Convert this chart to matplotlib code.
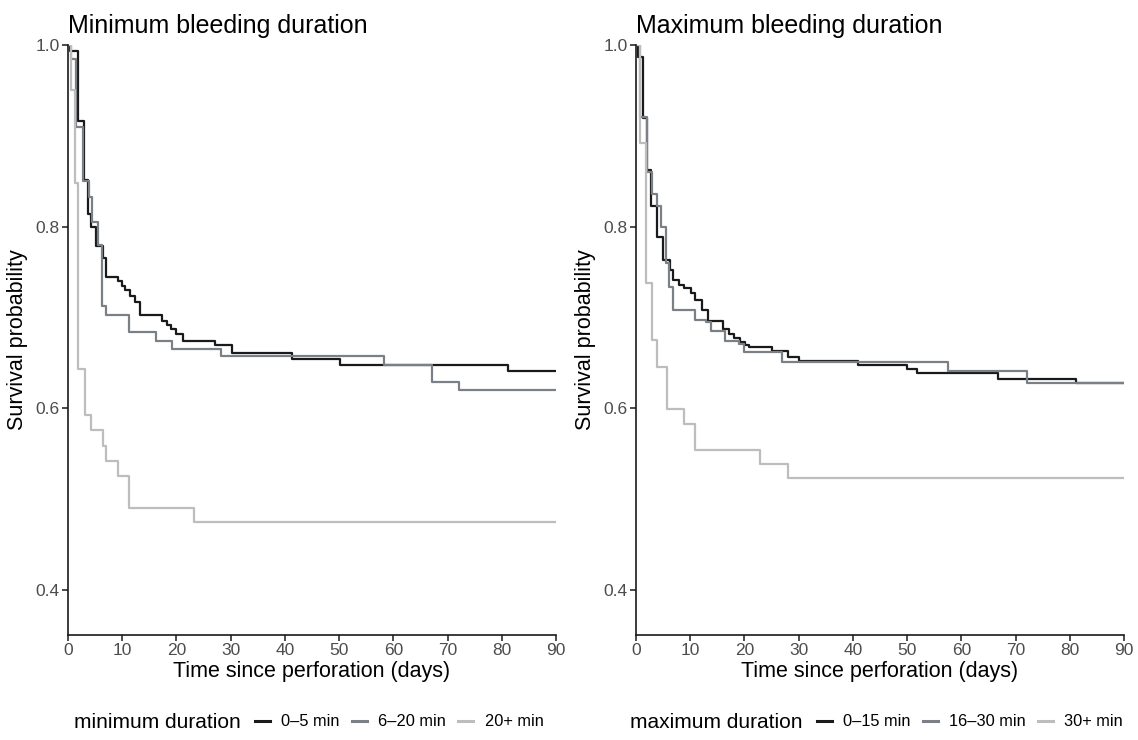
import matplotlib
matplotlib.use("Agg")
import matplotlib.pyplot as plt
from matplotlib.lines import Line2D

plt.rcParams['font.family'] = ['Liberation Sans', 'DejaVu Sans']

# Kaplan-Meier step data (time in days, survival)
min_t_a = [0, 0.4, 1.9, 3.0, 3.6, 4.2, 5.2, 6.4, 7.1, 9.2, 9.9, 10.5, 11.4, 12.4, 13.3,
           17.3, 18.2, 19.0, 20.0, 21.2, 27.1, 30.2, 41.3, 50.2, 81.2, 90]
min_s_a = [1.0, .993, .916, .851, .814, .800, .779, .765, .744, .740, .735, .730, .724, .717, .702,
           .696, .691, .687, .682, .674, .669, .661, .654, .647, .641, .641]
min_t_b = [0, 0.5, 1.5, 2.8, 3.8, 4.5, 5.5, 6.2, 7.1, 11.3, 16.2, 19.1, 28.2, 58.2, 67.1, 72.2, 90]
min_s_b = [1.0, .985, .910, .850, .833, .805, .780, .713, .703, .684, .674, .665, .657, .647, .629, .620, .620]
min_t_c = [0, 0.5, 1.2, 1.9, 3.1, 4.2, 6.4, 7.1, 9.2, 11.3, 23.3, 90]
min_s_c = [1.0, .950, .848, .643, .592, .576, .558, .542, .525, .490, .474, .474]

max_t_a = [0, 0.3, 1.2, 2.1, 2.8, 3.8, 4.9, 6.2, 6.9, 8.0, 8.9, 10.1, 10.9, 12.1, 13.2, 16.0,
           17.2, 18.1, 19.1, 20.1, 20.9, 25.0, 28.0, 30.0, 41.0, 50.0, 51.9, 66.8, 81.2, 90]
max_s_a = [1.0, .987, .920, .862, .823, .789, .763, .752, .741, .736, .732, .727, .719, .708, .696, .687,
           .682, .677, .673, .670, .667, .663, .656, .652, .648, .643, .639, .632, .628, .628]
max_t_b = [0, 0.7, 2.0, 3.0, 3.8, 4.6, 5.5, 6.0, 6.9, 10.8, 12.9, 13.8, 16.4, 19.0, 20.0, 26.9, 57.6, 72.1, 90]
max_s_b = [1.0, .921, .860, .836, .823, .800, .760, .733, .708, .697, .695, .685, .674, .671, .662, .651, .641, .628, .628]
max_t_c = [0, 0.8, 1.85, 2.9, 3.8, 5.8, 8.9, 10.9, 22.9, 28.0, 90]
max_s_c = [1.0, .892, .738, .675, .645, .599, .583, .554, .538, .523, .523]

min_labels = ['0–5 min', '6–20 min', '20+ min']
max_labels = ['0–15 min', '16–30 min', '30+ min']
colors = ['#1a1a1a', '#7b8087', '#bdbdbd']

fig = plt.figure(figsize=(11.38, 7.4), dpi=100)
W, H = 1138, 740


def make_axes(x0):
    return fig.add_axes([x0 / W, 1 - 635 / H, 488 / W, 590 / H])


def style(ax, title):
    ax.set_xlim(0, 90)
    ax.set_ylim(0.35, 1.0)
    ax.set_xticks(range(0, 91, 10))
    ax.set_yticks([0.4, 0.6, 0.8, 1.0])
    ax.set_yticklabels(['0.4', '0.6', '0.8', '1.0'])
    for s in ['top', 'right']:
        ax.spines[s].set_visible(False)
    for s in ['left', 'bottom']:
        ax.spines[s].set_linewidth(1.2)
        ax.spines[s].set_color('#1a1a1a')
    ax.tick_params(direction='out', length=4, width=1.1, colors='#1a1a1a',
                   labelcolor='#4d4d4d', labelsize=12.5, pad=2)
    ax.set_xlabel('Time since perforation (days)', fontsize=15.5, labelpad=2)
    ax.set_ylabel('Survival probability', fontsize=15.5, labelpad=5)
    ax.set_title(title, loc='left', fontsize=18, pad=9)


def legend(title, labels, title_x, leg_x):
    fig.text(title_x / W, 1 - 722 / H, title, fontsize=15, ha='right', va='center')
    handles = [Line2D([], [], color=c, lw=2.2) for c in colors]
    fig.legend(handles, labels, loc='center left', bbox_to_anchor=(leg_x / W, 1 - 722 / H),
               ncol=3, frameon=False, fontsize=11.8, handlelength=0.9, handletextpad=0.7,
               columnspacing=0.75, borderpad=0, borderaxespad=0)


ax1 = make_axes(68)
ax1.step(min_t_a, min_s_a, where='post', color=colors[0], lw=1.6)
ax1.step(min_t_b, min_s_b, where='post', color=colors[1], lw=1.6)
ax1.step(min_t_c, min_s_c, where='post', color=colors[2], lw=1.6)
style(ax1, 'Minimum bleeding duration')

ax2 = make_axes(636)
ax2.step(max_t_a, max_s_a, where='post', color=colors[0], lw=1.6)
ax2.step(max_t_b, max_s_b, where='post', color=colors[1], lw=1.6)
ax2.step(max_t_c, max_s_c, where='post', color=colors[2], lw=1.6)
style(ax2, 'Maximum bleeding duration')

legend('minimum duration', min_labels, 241, 255)
legend('maximum duration', max_labels, 802, 817)

fig.savefig('out.png', dpi=100)
